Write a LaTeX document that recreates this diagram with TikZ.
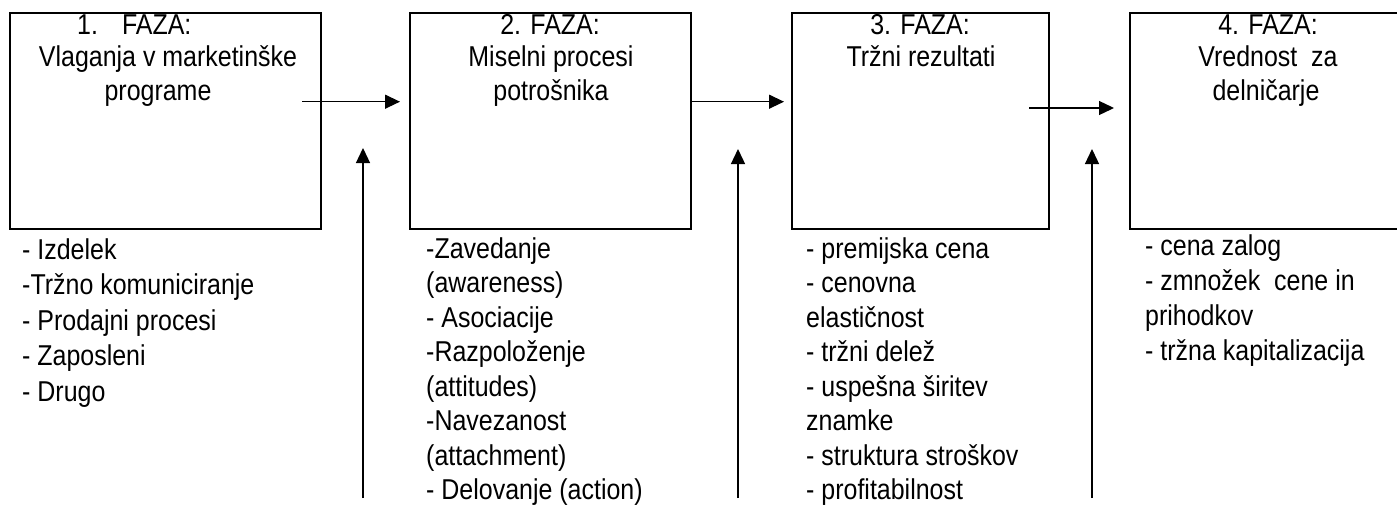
\documentclass[tikz,border=0pt]{standalone}
\usepackage{fontspec}
\setmainfont[FakeStretch=0.87]{Liberation Sans}
\usetikzlibrary{arrows.meta}
\begin{document}
\begin{tikzpicture}[x=1pt,y=-1pt,
  phase/.style={draw=black,line width=2pt,minimum height=216pt,inner sep=0pt},
  ttl/.style={anchor=base,inner sep=0pt,font=\fontsize{28.7}{33}\selectfont},
  itm/.style={anchor=base west,inner sep=0pt,font=\fontsize{28.7}{33}\selectfont},
  conn/.style={line width=1.3pt,-{Triangle[length=15pt,width=14pt]}}]
\useasboundingbox (0,0) rectangle (1397,512);
% boxes
\node[phase,minimum width=311pt] (b1) at (165.5,121) {};
\node[phase,minimum width=281pt] (b2) at (550.5,121) {};
\node[phase,minimum width=257pt] (b3) at (920.5,121) {};
\node[phase,minimum width=280pt] (b4) at (1270,121) {};
% titles
\node[itm] (t1a) at (77,34) {1.\hspace{24pt}FAZA:};
\node[ttl] (t1b) at (168,66.5) {Vlaganja v marketinške};
\node[ttl] (t1c) at (158,100) {programe};
\node[ttl] (t2a) at (550,34) {2. FAZA:};
\node[ttl] (t2b) at (551,66.5) {Miselni procesi};
\node[ttl] (t2c) at (551,100) {potrošnika};
\node[ttl] (t3a) at (920,34) {3. FAZA:};
\node[ttl] (t3b) at (921,66.5) {Tržni rezultati};
\node[ttl] (t4a) at (1268,34) {4. FAZA:};
\node[ttl] (t4b) at (1268,66.5) {Vrednost~ za};
\node[ttl] (t4c) at (1266,100) {delničarje};
% lists
\foreach \t [count=\i from 0] in {{- Izdelek},{-Tržno komuniciranje},{- Prodajni procesi},{- Zaposleni},{- Drugo}}
  \node[itm] (la\i) at (22,{259+\i*35.5}) {\t};
\foreach \t [count=\i from 0] in {{-Zavedanje},{(awareness)},{- Asociacije},{-Razpoloženje},{(attitudes)},{-Navezanost},{(attachment)},{- Delovanje (action)}}
  \node[itm] (lb\i) at (426,{258+\i*34.5}) {\t};
\foreach \t [count=\i from 0] in {{- premijska cena},{- cenovna},{elastičnost},{- tržni delež},{- uspešna širitev},{znamke},{- struktura stroškov},{- profitabilnost}}
  \node[itm] (lc\i) at (806,{258+\i*34.5}) {\t};
\foreach \t [count=\i from 0] in {{- cena zalog},{- zmnožek~ cene in},{prihodkov},{- tržna kapitalizacija}}
  \node[itm] (ld\i) at (1145,{255+\i*35}) {\t};
% connector end points
\coordinate (h1s) at (302,101.7);
\coordinate (h1e) at (400,101.7);
\coordinate (h2s) at (691,101.7);
\coordinate (h2e) at (784,101.7);
\coordinate (h3s) at (1029,108);
\coordinate (h3e) at (1114,108);
\coordinate (v1s) at (363,498);
\coordinate (v1e) at (363,148);
\coordinate (v2s) at (738,498);
\coordinate (v2e) at (738,149);
\coordinate (v3s) at (1092,498);
\coordinate (v3e) at (1092,149);
\draw[conn] (h1s) -- (h1e);
\draw[conn] (h2s) -- (h2e);
\draw[conn] (h3s) -- (h3e);
\draw[conn] (v1s) -- (v1e);
\draw[conn] (v2s) -- (v2e);
\draw[conn] (v3s) -- (v3e);
\end{tikzpicture}
\end{document}
